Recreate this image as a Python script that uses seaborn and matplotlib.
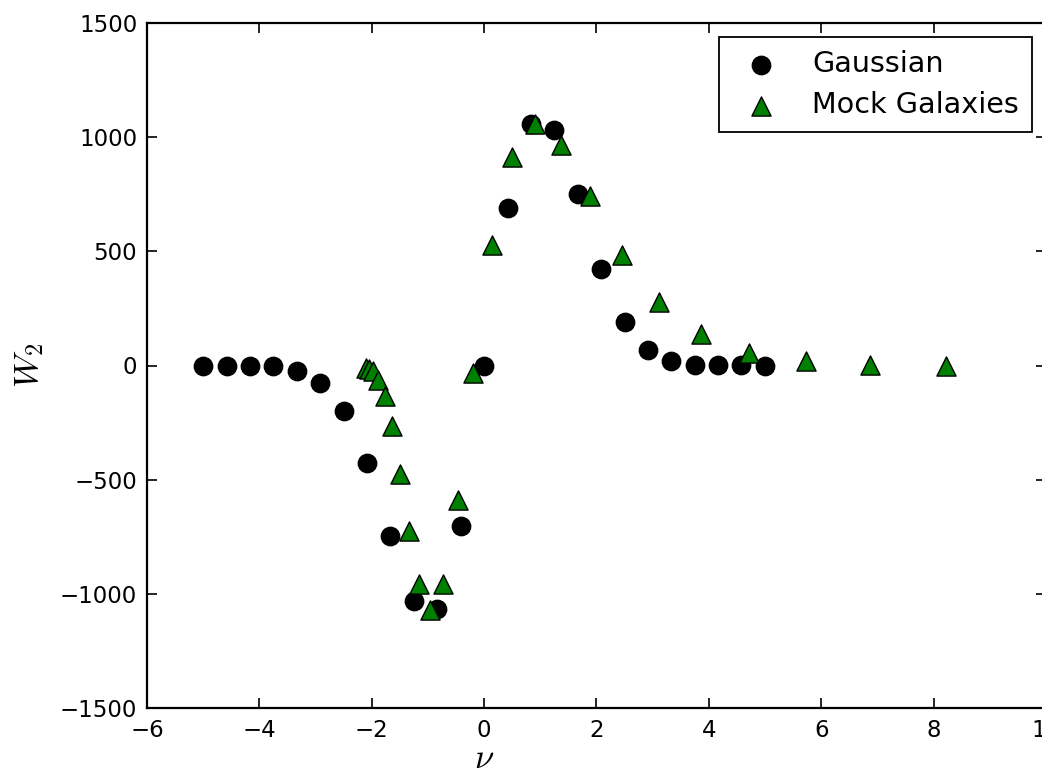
import matplotlib
matplotlib.use("Agg")
import matplotlib.pyplot as plt
import seaborn as sns
import pandas as pd

# Gaussian field: second Minkowski-type statistic W2 against threshold nu
gauss_nu = [-5.0, -4.58, -4.17, -3.75, -3.33, -2.92, -2.5, -2.08, -1.67, -1.25,
            -0.83, -0.42, 0.0, 0.42, 0.83, 1.25, 1.67, 2.08, 2.5, 2.92,
            3.33, 3.75, 4.17, 4.58, 5.0]
gauss_w2 = [-2, 0, 0, -3, -22, -76, -199, -426, -747, -1031,
            -1065, -701, -2, 688, 1056, 1031, 751, 421, 192, 70,
            20, 4, 1, 1, 0]

# Mock galaxy catalogue
mock_nu = [-2.11, -2.05, -1.98, -1.89, -1.77, -1.64, -1.50, -1.34, -1.16, -0.96,
           -0.73, -0.47, -0.20, 0.14, 0.49, 0.90, 1.36, 1.88, 2.45, 3.11,
           3.86, 4.72, 5.72, 6.86, 8.22]
mock_w2 = [-10, -15, -25, -64, -134, -266, -473, -724, -959, -1069,
           -959, -587, -32, 527, 914, 1056, 964, 742, 486, 279,
           136, 56, 19, 4, 0]

x_ticks = [-6, -4, -2, 0, 2, 4, 6, 8, 10]
y_ticks = [-1500, -1000, -500, 0, 500, 1000, 1500]

sns.set_style("ticks")
plt.rcParams.update({
    "font.family": ["DejaVu Sans"],
    "mathtext.fontset": "cm",
    "text.color": "black",
    "axes.labelcolor": "black",
    "xtick.color": "black",
    "ytick.color": "black",
    "xtick.labelcolor": "black",
    "ytick.labelcolor": "black",
    "xtick.direction": "in",
    "ytick.direction": "in",
    "xtick.top": True,
    "ytick.right": True,
    "axes.edgecolor": "black",
    "axes.linewidth": 1.6,
})

gauss = pd.DataFrame({"nu": gauss_nu, "w2": gauss_w2})
mock = pd.DataFrame({"nu": mock_nu, "w2": mock_w2})

fig = plt.figure(figsize=(10.42, 7.71), dpi=100, facecolor="white")
ax = fig.add_axes([147 / 1042, 63 / 771, 899 / 1042, 685 / 771])

sns.scatterplot(data=gauss, x="nu", y="w2", ax=ax, marker="o", s=175,
                color="black", edgecolor="black", linewidth=1.0,
                label="Gaussian", zorder=3)
sns.scatterplot(data=mock, x="nu", y="w2", ax=ax, marker="^", s=190,
                color="#008000", edgecolor="black", linewidth=1.0,
                label="Mock Galaxies", zorder=4)

ax.set_xlim(-6, 10)
ax.set_ylim(-1500, 1500)
ax.set_xticks(x_ticks)
ax.set_yticks(y_ticks)
ax.tick_params(axis="both", which="major", length=7, width=1.2,
               labelsize=16.5, color="black", labelcolor="black")
ax.tick_params(axis="x", pad=8)
ax.tick_params(axis="y", pad=7)

ax.set_xlabel(r"$\nu$", fontsize=25, color="black")
ax.set_ylabel(r"$W_2$", fontsize=25, color="black")
# x label sits under nu = 0, y label to the left of the tick labels
ax.xaxis.set_label_coords(0.375, -0.048)
ax.yaxis.set_label_coords(-0.112, 0.5)

leg = ax.legend(loc="upper right", fontsize=20.6, frameon=True, fancybox=False,
                framealpha=1, edgecolor="black", scatterpoints=1,
                borderpad=0.45, handlelength=2.0, handletextpad=0.8,
                labelspacing=0.45, borderaxespad=0.5)
leg.get_frame().set_linewidth(1.3)
for t in leg.get_texts():
    t.set_color("black")

fig.savefig("out.png", dpi=100, facecolor="white")
